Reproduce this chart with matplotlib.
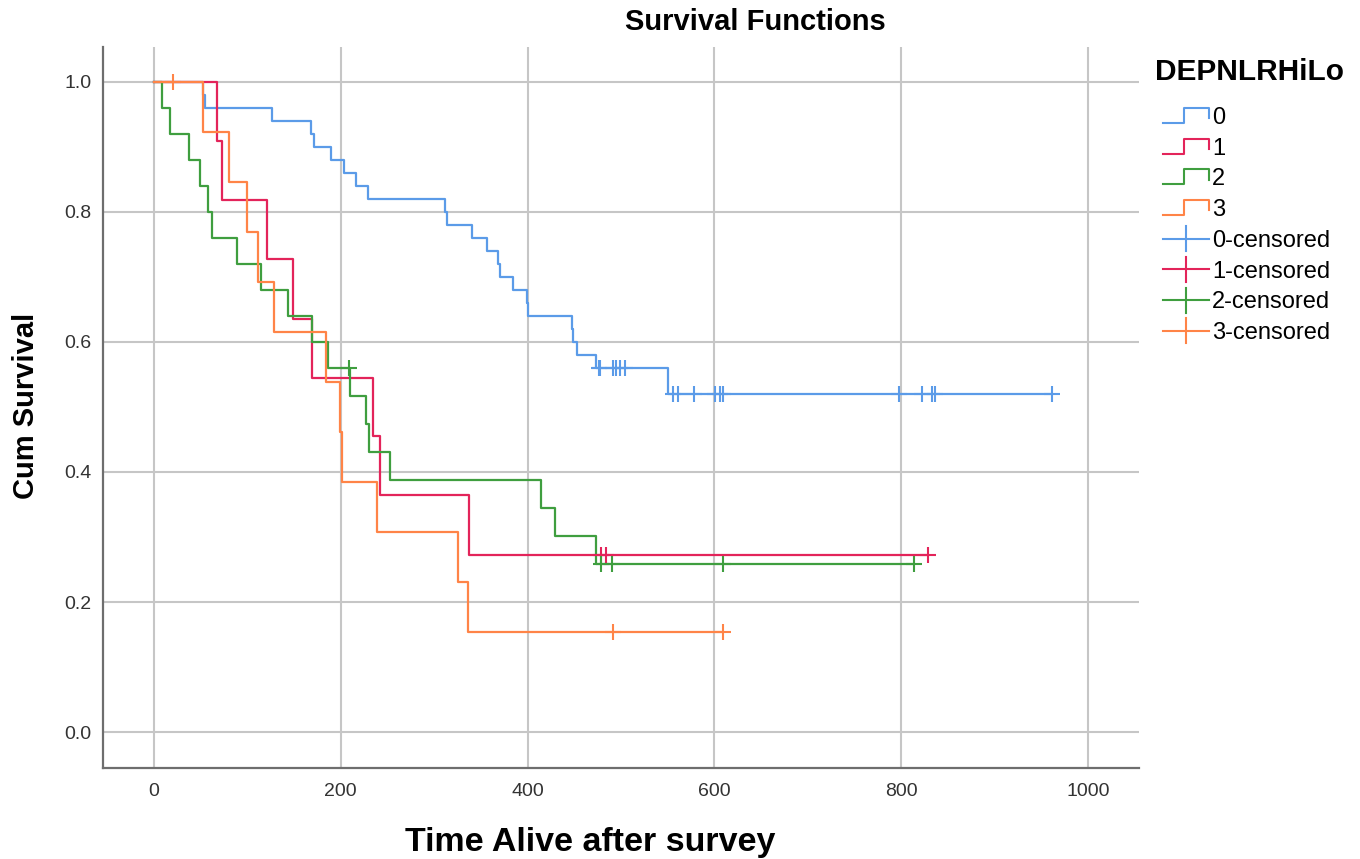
import numpy as np
import matplotlib
matplotlib.use("Agg")
import matplotlib.pyplot as plt
from matplotlib.lines import Line2D
from matplotlib.legend_handler import HandlerBase

plt.rcParams['font.family'] = ['Liberation Sans', 'DejaVu Sans']

# Kaplan-Meier steps: time of each step and survival after it
t0 = [0, 52, 55, 126, 168, 171, 190, 203, 216, 229, 312, 314, 340, 357, 368, 370,
      384, 399, 400, 448, 449, 453, 473, 550, 961]
s0 = [1.0, 0.98, 0.96, 0.94, 0.92, 0.90, 0.88, 0.86, 0.84, 0.82, 0.80, 0.78, 0.76,
      0.74, 0.72, 0.70, 0.68, 0.66, 0.64, 0.62, 0.60, 0.58, 0.56, 0.52, 0.52]
c0 = [476, 478, 491, 495, 499, 504, 556, 561, 578, 601, 606, 609, 798, 822, 833, 836, 961]

t1 = [0, 67, 73, 121, 149, 169, 234, 242, 337, 829]
s1 = [1.0, 0.909, 0.818, 0.727, 0.636, 0.545, 0.455, 0.364, 0.273, 0.273]
c1 = [479, 484, 829]

t2 = [0, 9, 17, 37, 49, 58, 62, 89, 115, 144, 169, 186, 210, 227, 230, 253, 414,
      429, 473, 814]
s2 = [1.0, 0.96, 0.92, 0.88, 0.84, 0.80, 0.76, 0.72, 0.68, 0.64, 0.60, 0.56, 0.517,
      0.474, 0.431, 0.388, 0.345, 0.302, 0.259, 0.259]
c2 = [209, 479, 490, 609, 814]

t3 = [0, 53, 80, 100, 111, 128, 184, 199, 201, 239, 325, 336, 609]
s3 = [1.0, 0.923, 0.846, 0.769, 0.692, 0.615, 0.538, 0.462, 0.385, 0.308, 0.231,
      0.154, 0.154]
c3 = [20, 491, 609]

groups = ['0', '1', '2', '3']
colors = ['#5b9be8', '#e3245a', '#3f9e3f', '#ff8447']


def surv_at(times, surv, c):
    idx = np.searchsorted(times, c, side='right') - 1
    return np.array(surv)[idx]


class StepHandler(HandlerBase):
    def create_artists(self, legend, orig_handle, xdescent, ydescent,
                       width, height, fontsize, trans):
        x0, y0 = -xdescent, -ydescent
        xs = [x0, x0 + 0.45 * width, x0 + 0.45 * width, x0 + width, x0 + width]
        ys = [y0 + 0.05 * height, y0 + 0.05 * height, y0 + 1.0 * height,
              y0 + 1.0 * height, y0 + 0.35 * height]
        return [Line2D(xs, ys, color=orig_handle.get_color(), lw=1.5, transform=trans)]


class CensorHandler(HandlerBase):
    def create_artists(self, legend, orig_handle, xdescent, ydescent,
                       width, height, fontsize, trans):
        x0, y0 = -xdescent, -ydescent
        mid = y0 + height / 2
        col = orig_handle.get_color()
        h = Line2D([x0, x0 + width], [mid, mid], color=col, lw=1.5, transform=trans)
        v = Line2D([x0 + width / 2] * 2, [mid - 0.8 * height, mid + 0.8 * height],
                   color=col, lw=1.5, transform=trans)
        return [h, v]


fig = plt.figure(figsize=(13.6, 8.59), dpi=100)
ax = fig.add_axes([0.0757, 0.1059, 0.7618, 0.8394])

step_lines = []
cens_lines = []
for t, s, c, col in zip([t0, t1, t2, t3], [s0, s1, s2, s3], [c0, c1, c2, c3], colors):
    ln, = ax.step(t, s, where='post', color=col, lw=1.6)
    step_lines.append(ln)
for t, s, c, col in zip([t0, t1, t2, t3], [s0, s1, s2, s3], [c0, c1, c2, c3], colors):
    cl, = ax.plot(c, surv_at(t, s, c), ls='none', marker='+', color=col,
                  markersize=11, markeredgewidth=1.5)
    cens_lines.append(cl)

ax.set_xlim(-54.6, 1054.6)
ax.set_ylim(-0.0554, 1.0538)
ax.set_xticks([0, 200, 400, 600, 800, 1000])
ax.set_yticks([0.0, 0.2, 0.4, 0.6, 0.8, 1.0])
ax.set_yticklabels(['0.0', '0.2', '0.4', '0.6', '0.8', '1.0'])
ax.grid(True, color='#c6c6c6', lw=1.5)
ax.set_axisbelow(True)
for side in ['top', 'right']:
    ax.spines[side].set_visible(False)
for side in ['left', 'bottom']:
    ax.spines[side].set_color('#6e6e6e')
    ax.spines[side].set_linewidth(1.6)
ax.tick_params(length=0, labelsize=14, colors='#333333')
ax.tick_params(axis='y', pad=8)
ax.tick_params(axis='x', pad=11)

fig.text(755 / 1360, 1 - 22 / 859, 'Survival Functions', ha='center', va='center',
         fontsize=21, fontweight='bold')
fig.text(590 / 1360, 1 - 843 / 859, 'Time Alive after survey', ha='center', va='center',
         fontsize=24.5, fontweight='bold')
fig.text(26 / 1360, 1 - 406 / 859, 'Cum Survival', ha='center', va='center',
         rotation=90, fontsize=21, fontweight='bold')
fig.text(1155 / 1360, 1 - 72 / 859, 'DEPNLRHiLo', ha='left', va='center',
         fontsize=21.5, fontweight='bold')

hmap = {ln: StepHandler() for ln in step_lines}
hmap.update({cl: CensorHandler() for cl in cens_lines})
labels = groups + [g + '-censored' for g in groups]
ax.legend(step_lines + cens_lines, labels, handler_map=hmap,
          loc='upper left', bbox_to_anchor=(1163 / 1360, 1 - 107 / 859),
          bbox_transform=fig.transFigure, frameon=False, fontsize=17,
          handlelength=1.95, handletextpad=0.13, labelspacing=0.37,
          borderpad=0, borderaxespad=0, handleheight=0.65)

fig.savefig('out.png', dpi=100)
